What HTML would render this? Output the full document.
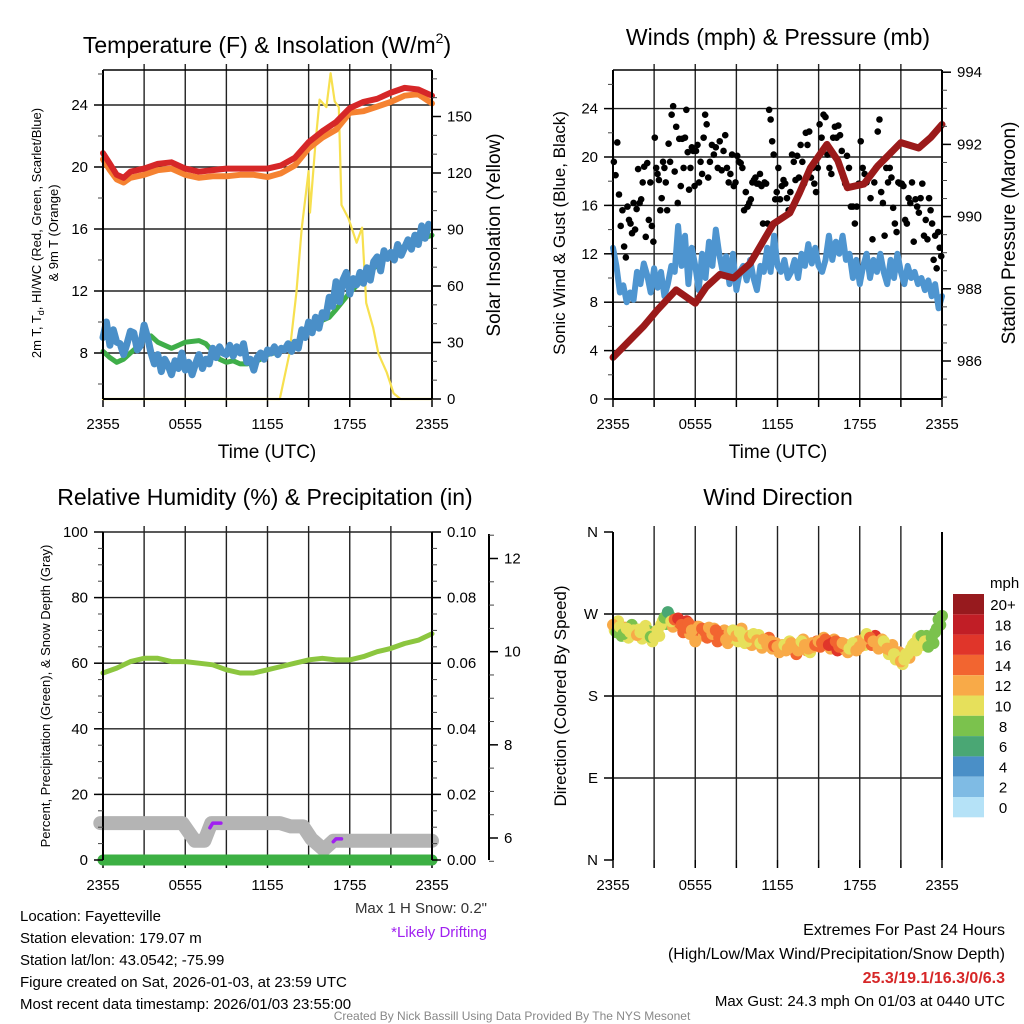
<!DOCTYPE html>
<html><head><meta charset="utf-8"><style>
html,body{margin:0;padding:0;background:#fff;}
svg{display:block;font-family:"Liberation Sans",sans-serif;}
</style></head><body>
<svg id="chart" width="1024" height="1024" viewBox="0 0 1024 1024" xmlns="http://www.w3.org/2000/svg">
<rect width="1024" height="1024" fill="#fff"/>
<g id="layer"></g>
<text x="267" y="53" font-size="23" text-anchor="middle">Temperature (F) &amp; Insolation (W/m<tspan font-size="14" dy="-10">2</tspan><tspan dy="10">)</tspan></text>
<text x="778" y="45" font-size="23" text-anchor="middle">Winds (mph) &amp; Pressure (mb)</text>
<text x="265" y="505" font-size="23" text-anchor="middle">Relative Humidity (%) &amp; Precipitation (in)</text>
<text x="778" y="505" font-size="23" text-anchor="middle">Wind Direction</text>
<text x="267" y="458" font-size="19" text-anchor="middle">Time (UTC)</text>
<text x="778" y="458" font-size="19" text-anchor="middle">Time (UTC)</text>
<text transform="translate(41,233) rotate(-90)" font-size="13" text-anchor="middle">2m T, T<tspan font-size="9" dy="3">d</tspan><tspan dy="-3">, HI/WC (Red, Green, Scarlet/Blue)</tspan></text>
<text transform="translate(58,233) rotate(-90)" font-size="13" text-anchor="middle">&amp; 9m T (Orange)</text>
<text transform="translate(500,235) rotate(-90)" font-size="19" text-anchor="middle">Solar Insolation (Yellow)</text>
<text transform="translate(565,233) rotate(-90)" font-size="17" text-anchor="middle">Sonic Wind &amp; Gust (Blue, Black)</text>
<text transform="translate(1015,233) rotate(-90)" font-size="19" text-anchor="middle">Station Pressure (Maroon)</text>
<text transform="translate(50,696) rotate(-90)" font-size="13" text-anchor="middle">Percent, Precipitation (Green), &amp; Snow Depth (Gray)</text>
<text transform="translate(566,696) rotate(-90)" font-size="17" text-anchor="middle">Direction (Colored By Speed)</text>
<text x="487" y="913" font-size="15" text-anchor="end" fill="#333">Max 1 H Snow: 0.2"</text>
<text x="487" y="937" font-size="15" text-anchor="end" fill="#a020f0">*Likely Drifting</text>
<g font-size="15">
<text x="20" y="921">Location: Fayetteville</text>
<text x="20" y="943">Station elevation: 179.07 m</text>
<text x="20" y="965">Station lat/lon: 43.0542; -75.99</text>
<text x="20" y="987">Figure created on Sat, 2026-01-03, at 23:59 UTC</text>
<text x="20" y="1009">Most recent data timestamp: 2026/01/03 23:55:00</text>
</g>
<g text-anchor="end">
<text x="1005" y="935" font-size="16">Extremes For Past 24 Hours</text>
<text x="1005" y="959" font-size="16">(High/Low/Max Wind/Precipitation/Snow Depth)</text>
<text x="1005" y="983" font-size="16" font-weight="bold" fill="#d62728">25.3/19.1/16.3/0/6.3</text>
<text x="1005" y="1006" font-size="15">Max Gust: 24.3 mph On 01/03 at 0440 UTC</text>
</g>
<text x="512" y="1020" font-size="12" fill="#888" text-anchor="middle">Created By Nick Bassill Using Data Provided By The NYS Mesonet</text>
</svg>
<script>
// ---------- data ----------
const xTickLabels = ["2355","0555","1155","1755","2355"];
const hourStep = 0.25;
const tempRedH = [0,0.5,1,1.5,2,3,4,5,6,7,8,9,10,11,12,13,14,15,16,17,18,19,20,21,22,23,24];
const tempRed  = [20.9,20.2,19.5,19.3,19.7,19.9,20.2,20.3,19.9,19.7,19.8,19.9,19.9,19.9,19.9,20.1,20.6,21.6,22.3,22.9,23.8,24.2,24.4,24.8,25.1,25.0,24.6];
const tempOrange=[20.5,19.8,19.2,19.0,19.3,19.5,19.8,19.9,19.5,19.3,19.4,19.4,19.5,19.5,19.35,19.6,20.1,21.2,21.9,22.4,23.5,23.6,23.9,24.2,24.6,24.7,24.1];
const dewH = [0,0.5,1,1.5,2,2.5,3,3.5,4,4.5,5,5.5,6,7,7.5,8,8.5,9,9.5,10,10.5,11,11.5,12,12.5,13,14,15,16,16.5,17,18,19,20,21,22,23,24];
const dewGreen = [8.1,7.7,7.4,7.6,8.0,8.4,8.9,9.1,8.7,8.5,8.3,8.5,8.7,8.8,8.6,8.1,7.6,7.4,7.5,7.3,7.3,7.4,7.6,7.9,8.0,8.2,8.6,9.4,10.1,10.3,10.8,11.9,12.8,13.7,14.4,14.9,15.3,15.6];
const wcBlue = [9.0,10.0,8.5,9.5,8.7,8.6,7.9,8.6,9.4,9.3,8.2,8.5,9.8,9.0,8.0,7.3,7.9,6.8,7.6,7.2,6.6,7.5,7.0,8.0,6.9,7.4,6.6,7.3,7.9,7.0,7.6,7.3,8.3,7.7,8.4,8.0,7.9,8.5,7.8,8.4,8.0,8.6,7.4,7.6,6.9,7.7,8.0,7.6,8.2,8.0,8.4,7.9,8.3,8.2,8.6,8.1,8.7,8.3,9.5,9.0,10.0,9.3,10.3,9.6,10.6,10.3,11.6,11.0,12.6,11.3,12.7,13.2,11.8,12.8,12.4,13.2,12.5,13.5,12.7,13.9,14.2,13.3,14.6,14.1,14.5,14.0,15.0,14.3,14.8,15.3,14.7,15.6,15.0,16.2,15.4,16.3];
const solarH = [0,12.9,13.6,14.1,14.5,15.0,15.1,15.5,15.8,16.3,16.6,16.9,17.2,17.4,17.9,18.5,18.9,19.2,19.7,20.1,20.7,21.2,21.7,24];
const solar  = [0,0,24,56,91,121,99,136,159,155,173,158,155,103,96,83,91,51,38,24,14,3,0,0];
const windBlue = [12.5,11.0,8.8,9.4,8.0,8.8,8.2,10.5,9.5,11.2,10.2,8.8,10.8,9.2,10.5,8.5,9.5,11.0,10.5,14.3,11.0,13.5,9.5,12.5,11.0,9.0,12.0,10.0,13.0,11.0,14.0,12.0,10.5,11.8,9.5,12.0,9.0,10.5,11.0,9.8,11.5,10.0,9.0,11.0,10.5,12.5,10.5,13.5,11.0,10.5,11.5,10.0,10.5,11.5,10.0,12.0,11.0,12.8,11.2,12.5,11.0,10.5,11.5,13.5,11.5,13.0,12.0,13.5,11.5,12.0,10.0,11.5,9.5,11.0,12.0,10.0,11.5,10.5,12.0,10.5,9.5,11.5,10.0,12.0,10.5,9.5,11.0,10.0,10.5,9.5,10.0,9.0,9.8,8.5,9.5,7.5,8.5];
const gustByHour = [
[19.6,18.5,21.2,16.9,14.3,15.6,12.6,11.7],
[15.9,14.8,14.5,13.7,16.2,14.0,15.7,19.0,16.2],
[16.5,17.9,19.2,13.4,19.5,14.8,17.9,14.3,13.0],
[21.6,19.1,18.6,18.1,15.6,16.6,19.6,19.1,17.9,15.6],
[21.1,19.6,23.5,24.2,18.8,22.5,16.2,21.5,17.6],
[21.5,19.1,21.6,23.9,20.4,17.3,19.1,20.8,20.5,17.6],
[20.5,21.0,17.9,19.6,18.6,21.6,23.5,22.7,18.3],
[19.6,21.0,20.2,20.8,19.1,21.3,18.9],
[20.5,21.8,19.1,17.9,18.6,20.2,17.6,17.9],
[20.1,19.6,19.5,19.1,15.6,17.1,15.9,16.2],
[16.5,17.9,18.1,18.3,17.8,17.8,18.6,17.6,14.5],
[17.9,17.8,14.5,23.9,23.1,21.3,20.2,16.5,17.1],
[19.1,16.5,17.6,18.1,17.8,16.6,15.6,17.1],
[20.2,19.6,18.1,20.1,18.3,21.0,19.6,17.8],
[22.0,21.0,22.1,18.3,19.1,17.8,17.1,19.1],
[22.7,21.6,23.5,23.3,20.2,19.1,18.6],
[21.6,22.5,21.6,22.6,21.8,20.5,18.3,17.8],
[20.1,19.1,15.9,15.9,14.5,15.9,17.8],
[21.3,19.1,18.6,17.9,18.3,16.6,13.2],
[17.9,19.1,22.1,23.1,17.1,16.2,13.5,19.1],
[17.9,19.1,18.3,15.8,14.5,13.8,17.9,17.8],
[17.8,17.6,14.8,14.5,16.6,16.2,17.9,13.0],
[16.5,15.9,15.4,16.6,17.8,13.5,14.8,13.2],
[16.6,15.6,14.5,11.5,13.5,10.8,13.8,12.5,11.8]];
const presH = [0,2.2,3.2,4.6,6.0,6.8,7.8,8.8,10,11,11.7,12.9,13.6,14.4,15.6,16.4,17.1,18.3,19.3,20.1,21.0,22.3,23.2,24];
const pressure = [986.1,986.95,987.4,987.97,987.6,988.05,988.4,988.3,988.7,989.35,989.8,990.1,990.65,991.35,992.0,991.55,990.8,990.9,991.4,991.7,992.05,991.9,992.2,992.55];
const rhH = [0,1,2,3,4,5,6,7,8,9,10,11,12,13,14,15,16,17,18,19,20,21,22,23,24];
const rh  = [57,58.5,60.5,61.5,61.5,60.5,60.5,60,59.5,58,57,57,58,59,60,61,61.5,61,61,62,63.5,64.5,66,67,69];
const precipH = [0,24];
const precip = [0,0];
const snowH = [-0.2,5.8,6.7,7.4,7.9,12.9,13.7,14.6,15.2,16.1,16.8,24];
const snow  = [6.32,6.32,5.94,5.94,6.32,6.32,6.25,6.25,5.98,5.75,5.94,5.94];
const driftH = [[7.8,8.0,8.6],[16.8,17.0,17.4]];
const driftV = [[6.22,6.32,6.32],[5.92,5.98,5.98]];
const windDir = [258,250,256,248,254,250,252,247,250,254,248,245,244,252,258,266,272,262,264,265,258,255,260,252,240,256,254,250,255,248,252,244,246,242,250,252,246,250,244,240,245,248,241,238,242,236,240,235,234,230,236,232,238,234,230,240,236,232,238,236,240,238,242,236,238,240,234,238,236,232,238,230,234,242,248,244,240,238,236,240,232,230,226,222,218,220,226,232,238,244,246,240,234,244,250,264,268];
const dirSpeed = [12,8,10,8,10,10,11,12,10,10,11,9,10,11,10,8,7,11,14,17,15,14,15,13,12,13,14,15,12,13,14,15,15,13,12,11,13,10,10,11,12,10,12,11,12,13,12,15,13,12,11,13,12,12,13,11,12,12,13,15,13,14,15,16,17,15,14,13,12,10,11,12,13,12,10,15,12,13,12,11,12,13,10,11,12,11,10,10,10,10,9,10,9,8,8,8,8];
const windDir2 = [252,262,246,255,244,258,249,253,243,257,251,240,250,246,262,259,268,256,258,260,250,262,248,246,256,250,246,244,250,254,240,248,252,238,244,246,240,254,238,246,236,242,247,233,238,244,232,238,228,236,230,240,232,226,236,242,230,228,234,240,234,244,236,232,242,230,238,232,228,236,232,240,238,236,244,236,246,232,242,234,226,236,220,228,215,226,222,236,230,240,236,246,240,238,254,258];
const dirSpeed2 = [10,11,8,12,10,9,12,10,11,10,9,10,12,10,11,9,8,13,12,15,14,16,13,12,14,15,13,14,13,12,15,14,12,13,11,12,10,12,11,10,12,13,11,12,12,14,13,12,12,13,12,11,12,14,13,12,12,11,12,14,15,13,14,12,13,16,15,13,12,11,12,13,12,11,13,14,16,12,13,12,11,12,11,12,10,11,12,10,10,9,10,8,10,8,8,9];
const speedBins = ["0","2","4","6","8","10","12","14","16","18","20+"];
const speedColors = ["#b5e2f7","#7fbbe4","#4a8fc7","#4aa774","#7bc24d","#e6e05b","#f8aa48","#f26530","#e0352a","#c11e26","#971a1e"];

// ---------- drawing ----------
const NS="http://www.w3.org/2000/svg";
const layer=document.getElementById('layer');
function mk(tag,attrs,parent){const e=document.createElementNS(NS,tag);for(const k in attrs)e.setAttribute(k,attrs[k]);(parent||layer).appendChild(e);return e;}
function lin(d0,d1,r0,r1){return v=>r0+(v-d0)*(r1-r0)/(d1-d0);}
function pathD(xs,ys,fx,fy){return xs.map((h,i)=>(i?'L':'M')+fx(h).toFixed(1)+','+fy(ys[i]).toFixed(1)).join('');}

const P={l1:103,r1:432,l2:613,r2:942,t1:70,b1:399,t2:532,b2:860};
const X1=lin(0,24,P.l1,P.r1), X2=lin(0,24,P.l2,P.r2);
const Ytemp=lin(8,24,353,105), Ysol=lin(0,150,399,116.5);
const Ywind=lin(0,24,399,108.6), Ypres=lin(986,994,361,72.2);
const Yrh=lin(0,100,860,532), Ypr=lin(0,0.1,860,532), Ysnow=lin(6,12,838,558.5);
const Ydir=lin(0,360,860,532);

function frame(l,r,t,b,name){
  const g=mk('g',{});
  
  
  for(let h=3;h<24;h+=3){const x=lin(0,24,l,r)(h);
    const ln=mk('line',{x1:x,y1:t-6,x2:x,y2:b,stroke:'#222','stroke-width':1.4},g);
    
    }
  const xs=lin(0,24,l,r);
  for(let h=0;h<=24;h+=3){const x=xs(h);
    const tk=mk('line',{x1:x,y1:b,x2:x,y2:b+8,stroke:'#000','stroke-width':1.5},g);
    
    }
  xTickLabels.forEach((s,i)=>{const tx=mk('text',{x:xs(i*6),y:b+30,'font-size':15,'text-anchor':'middle'},g);tx.textContent=s;
    
    });
  return g;
}
function hgrid(g,l,r,ys){ys.forEach(y=>{const ln=mk('line',{x1:l,y1:y,x2:r,y2:y,stroke:'#222','stroke-width':1.4},g);
  
  });}
function yaxis(x,t,b,side,majors,minors,fy,fmt,name,len){
  const g=mk('g',{});
  
  
  mk('line',{x1:x,y1:t,x2:x,y2:b,stroke:'#000','stroke-width':2},g);
  const d=side==='left'?-1:1;
  minors.forEach(v=>mk('line',{x1:x,y1:fy(v),x2:x+d*5,y2:fy(v),stroke:'#444','stroke-width':1},g));
  majors.forEach(v=>{const y=fy(v);mk('line',{x1:x,y1:y,x2:x+d*(len||9),y2:y,stroke:'#000','stroke-width':1.5},g);
    const tx=mk('text',{x:x+d*((len||9)+6),y:y+5,'font-size':15,'text-anchor':side==='left'?'end':'start'},g);tx.textContent=fmt(v);
    
    });
}
function range(a,b,s){const o=[];for(let v=a;v<=b+1e-9;v+=s)o.push(+v.toFixed(4));return o;}
function line(xs,ys,fx,fy,color,w,name){const p=mk('path',{d:pathD(xs,ys,fx,fy),fill:'none',stroke:color,'stroke-width':w,'stroke-linejoin':'round','stroke-linecap':'round'});
  
  return p;}
const stepH=n=>Array.from({length:n},(_,i)=>i*hourStep);

// Panel 1
const g1=frame(P.l1,P.r1,P.t1,P.b1,'temperature-panel');
hgrid(g1,P.l1,P.r1,range(8,24,4).map(Ytemp));
mk('line',{x1:P.l1,y1:P.t1,x2:P.r1,y2:P.t1,stroke:'#000','stroke-width':1.5},g1);
line(solarH,solar,X1,Ysol,'#f7e04f',2.2,'solar-insolation-line');
line(dewH,dewGreen,X1,Ytemp,'#3fae49',5,'dewpoint-line');
line(stepH(wcBlue.length),wcBlue,X1,Ytemp,'#4a8fc8',7,'windchill-line');
line(tempRedH,tempOrange,X1,Ytemp,'#f58231',6,'temp-9m-line');
line(tempRedH,tempRed,X1,Ytemp,'#d62728',6,'temp-2m-line');
yaxis(P.l1,P.t1,P.b1,'left',range(8,24,4),range(6,26,2),Ytemp,v=>v,'temp-y-axis');
yaxis(P.r1,P.t1,P.b1,'right',range(0,150,30),range(0,170,10),Ysol,v=>v,'solar-y-axis');
mk('line',{x1:P.l1,y1:P.b1,x2:P.r1,y2:P.b1,stroke:'#000','stroke-width':2});

// Panel 2
const g2=frame(P.l2,P.r2,P.t1,P.b1,'winds-panel');
hgrid(g2,P.l2,P.r2,range(4,24,4).map(Ywind));
mk('line',{x1:P.l2,y1:P.t1,x2:P.r2,y2:P.t1,stroke:'#000','stroke-width':1.5},g2);
line(stepH(windBlue.length),windBlue,X2,Ywind,'#4e95d0',6,'sonic-wind-line');
gustByHour.forEach((arr,hr)=>arr.forEach((v,i)=>{
  const c=mk('circle',{cx:X2(hr+(i+0.5)/arr.length),cy:Ywind(v),r:3.3,fill:'#000'});
  
  }));
line(presH,pressure,X2,Ypres,'#9b1a1a',7,'pressure-line');
yaxis(P.l2,P.t1,P.b1,'left',range(0,24,4),range(0,26,2),Ywind,v=>v,'wind-y-axis');
yaxis(P.r2,P.t1,P.b1,'right',range(986,994,2),range(985,994,0.5),Ypres,v=>v,'pressure-y-axis');
mk('line',{x1:P.l2,y1:P.b1,x2:P.r2,y2:P.b1,stroke:'#000','stroke-width':2});

// Panel 3
const g3=frame(P.l1,P.r1,P.t2,P.b2,'humidity-panel');
hgrid(g3,P.l1,P.r1,range(20,100,20).map(Yrh));
line(snowH,snow,X1,Ysnow,'#b4b4b4',14,'snow-depth-line');
driftH.forEach((hs,i)=>line(hs,driftV[i],X1,Ysnow,'#a020f0',3.5,'drifting-snow-mark'));
line(rhH,rh,X1,Yrh,'#8cc63f',5,'relative-humidity-line');
line(precipH,precip,X1,Ypr,'#3cb043',11,'precipitation-line');
yaxis(P.l1,P.t2,P.b2,'left',range(0,100,20),range(0,100,5),Yrh,v=>v,'rh-y-axis');
yaxis(P.r1,P.t2,P.b2,'right',range(0,0.1,0.02),range(0,0.1,0.005),Ypr,v=>v.toFixed(2),'precip-y-axis');
yaxis(489,P.t2+2,P.b2,'right',range(6,12,2),range(5.5,12.5,0.5),Ysnow,v=>v,'snow-depth-y-axis');

// Panel 4
const g4=frame(P.l2,P.r2,P.t2,P.b2,'wind-direction-panel');
hgrid(g4,P.l2,P.r2,[90,180,270].map(Ydir));
const dirLabels=["N","E","S","W","N"];
function dirPoint(h,d,s){
  const bi=Math.min(10,Math.floor(s/2));
  const c=mk('circle',{cx:X2(h),cy:Ydir(d),r:6,fill:speedColors[bi]});
  
  
}
windDir2.forEach((d,i)=>dirPoint(i*hourStep+hourStep/2,d,dirSpeed2[i]));
windDir.forEach((d,i)=>dirPoint(i*hourStep,d,dirSpeed[i]));
yaxis(P.l2,P.t2,P.b2,'left',[0,90,180,270,360],[],Ydir,v=>dirLabels[v/90],'direction-y-axis');
mk('line',{x1:P.r2,y1:P.t2,x2:P.r2,y2:P.b2,stroke:'#000','stroke-width':2});
const cb=mk('g',{});


const cbt=mk('text',{x:990,y:588,'font-size':15},cb);cbt.textContent='mph';
speedBins.slice().reverse().forEach((lab,i)=>{
  const y=594+i*20.3;
  const r=mk('rect',{x:953,y:y,width:31,height:20.3,fill:speedColors[10-i]},cb);
  
  
  const t=mk('text',{x:1003,y:y+16,'font-size':15,'text-anchor':'middle'},cb);t.textContent=lab;
  
  
});
</script>
</body></html>
